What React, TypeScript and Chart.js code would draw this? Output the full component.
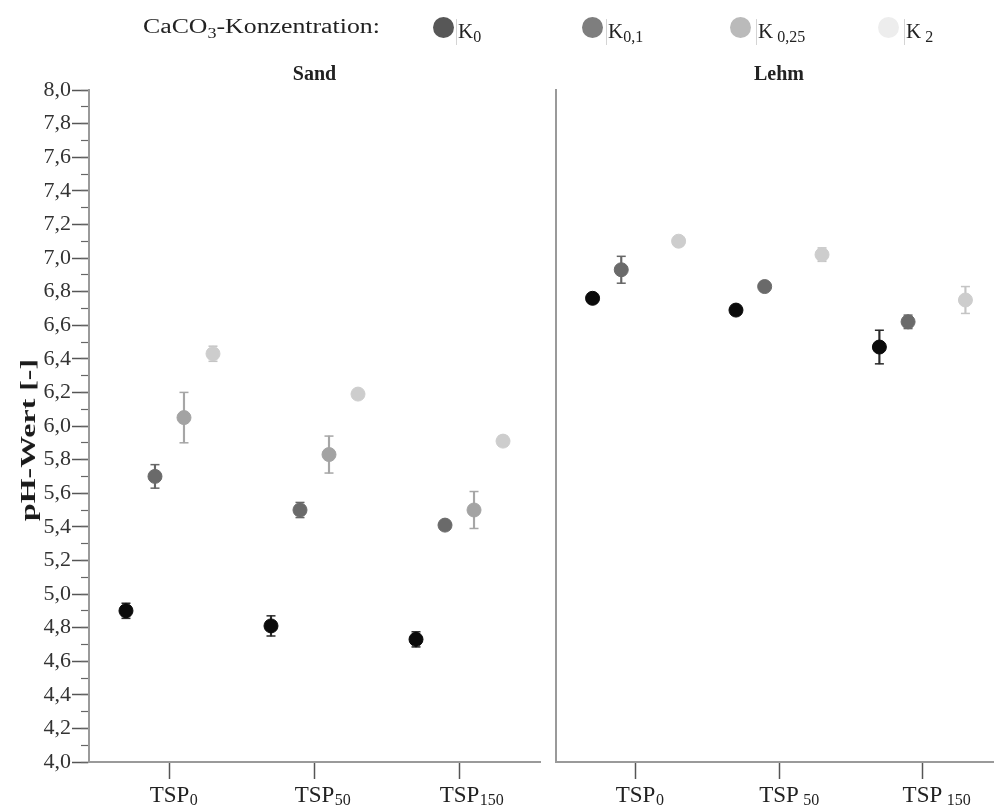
import React, { useEffect, useRef } from 'react';
import { Chart, registerables } from 'chart.js';

Chart.register(...registerables);

// ---------- data ----------
const categoryLabels = ['TSP', 'TSP', 'TSP'];
const sandCategorySubs = ['0', '50', '150'];
const lehmCategorySubs = ['0', ' 50', ' 150'];

const seriesNames = ['K0', 'K0,1', 'K0,25', 'K2'];
const legendBase = 'K';
const legendSubs = ['0', '0,1', ' 0,25', ' 2'];

const yMin = 4.0;
const yMax = 8.0;
const yMajorStep = 0.2;
const yMinorStep = 0.1;

// Sand
const sandK0 = [4.9, 4.81, 4.73];
const sandK0Err = [0.045, 0.06, 0.045];
const sandK01 = [5.7, 5.5, 5.41];
const sandK01Err = [0.07, 0.045, 0.02];
const sandK025 = [6.05, 5.83, 5.5];
const sandK025Err = [0.15, 0.11, 0.11];
const sandK2 = [6.43, 6.19, 5.91];
const sandK2Err = [0.045, 0.02, 0.03];

// Lehm
const lehmK0 = [6.76, 6.69, 6.47];
const lehmK0Err = [0.02, 0.02, 0.1];
const lehmK01 = [6.93, 6.83, 6.62];
const lehmK01Err = [0.08, 0.02, 0.04];
const lehmK025: (number | null)[] = [null, null, null];
const lehmK025Err = [0, 0, 0];
const lehmK2 = [7.1, 7.02, 6.75];
const lehmK2Err = [0.02, 0.04, 0.08];

// ---------- style ----------
const SERIF = "'Liberation Serif', 'Times New Roman', serif";
const pointColors = ['#0b0b0b', '#6a6a6a', '#a3a3a3', '#cdcdcd'];
const errorColors = ['#2a2a2a', '#666666', '#a6a6a6', '#c4c4c4'];
const legendColors = ['#575757', '#7e7e7e', '#bababa', '#ededed'];
const dodge = [-0.3, -0.1, 0.1, 0.3];
const xRange = [-0.555, 2.555];
const xTickFont = 23;
const xSubFont = 16;

function buildDatasets(values: (number | null)[][], errors: number[][]) {
  const ds: any[] = [];
  values.forEach((series, j) => {
    const pts: any[] = [];
    const whiskers: any[] = [];
    const caps: any[] = [];
    series.forEach((v, i) => {
      if (v === null || v === undefined) return;
      const x = i + dodge[j];
      const e = errors[j][i];
      pts.push({ x, y: v });
      if (e > 0) {
        whiskers.push({ x, y: [v - e, v + e] });
        caps.push({ x, y: v - e }, { x, y: v + e });
      }
    });
    if (!pts.length) return;
    ds.push({
      type: 'bar',
      label: seriesNames[j] + ' SE',
      data: whiskers,
      backgroundColor: errorColors[j],
      borderWidth: 0,
      barThickness: 1.5,
      grouped: false,
      order: 3,
      xAxisID: 'x',
      yAxisID: 'y',
    });
    ds.push({
      type: 'scatter',
      label: seriesNames[j] + ' caps',
      data: caps,
      pointStyle: 'line',
      pointRadius: 4.5,
      pointHoverRadius: 4.5,
      pointBorderWidth: 1.5,
      borderColor: errorColors[j],
      pointBorderColor: errorColors[j],
      order: 2,
      xAxisID: 'x',
      yAxisID: 'y',
    });
    ds.push({
      type: 'scatter',
      label: seriesNames[j],
      data: pts,
      pointRadius: 7,
      pointHoverRadius: 7,
      pointBackgroundColor: pointColors[j],
      pointBorderColor: pointColors[j],
      pointBorderWidth: 1,
      order: 1,
      xAxisID: 'x',
      yAxisID: 'y',
    });
  });
  return ds;
}

function subscriptPlugin(subs: string[]) {
  return {
    id: 'tickSubscripts',
    afterDraw(chart: any) {
      const scale = chart.scales.x;
      const ctx = chart.ctx;
      const o = scale.options;
      ctx.save();
      scale.ticks.forEach((t: any, i: number) => {
        const x = scale.getPixelForValue(t.value);
        ctx.font = `${xTickFont}px ${SERIF}`;
        ctx.textBaseline = 'middle';
        const m = ctx.measureText(String(t.label));
        const midY = scale.top + o.grid.tickLength + o.ticks.padding + (xTickFont * 1.2) / 2;
        const baseY = midY + m.actualBoundingBoxDescent;
        ctx.font = `${xSubFont}px ${SERIF}`;
        ctx.textBaseline = 'alphabetic';
        ctx.textAlign = 'left';
        ctx.fillStyle = '#222';
        ctx.fillText(subs[i], x + m.width / 2 + 0.5, baseY + 3);
      });
      ctx.restore();
    },
  };
}

function makeConfig(title: string, values: (number | null)[][], errors: number[][], subs: string[], withLabels: boolean): any {
  const scales: any = {
    x: {
      type: 'linear',
      min: xRange[0],
      max: xRange[1],
      offset: false,
      afterBuildTicks: (s: any) => {
        s.ticks = categoryLabels.map((_, i) => ({ value: i }));
      },
      afterFit: (s: any) => {
        s.height = 45;
      },
      ticks: {
        callback: (_v: any, i: number) => categoryLabels[i],
        font: { family: SERIF, size: xTickFont },
        color: '#222',
        padding: 3,
        autoSkip: false,
        maxRotation: 0,
      },
      grid: { offset: false, drawOnChartArea: false, drawTicks: true, tickLength: 17, tickColor: '#555', tickWidth: 1.5 },
      border: { display: true, color: '#9a9a9a', width: 2 },
    },
    y: {
      type: 'linear',
      min: yMin,
      max: yMax,
      weight: 1,
      afterFit: (s: any) => {
        s.width = withLabels ? 89 : 4;
      },
      ticks: withLabels
        ? {
            stepSize: yMajorStep,
            autoSkip: false,
            callback: (v: any) => Number(v).toFixed(1).replace('.', ','),
            font: { family: SERIF, size: 22 },
            color: '#333',
            padding: 1,
          }
        : { display: false, stepSize: yMajorStep },
      grid: withLabels
        ? { drawOnChartArea: false, tickLength: 17, tickColor: '#555', tickWidth: 1.5 }
        : { drawOnChartArea: false, drawTicks: false },
      border: { display: true, color: '#9a9a9a', width: 2 },
    },
  };
  if (withLabels) {
    scales.yMinor = {
      type: 'linear',
      position: 'left',
      min: yMin,
      max: yMax,
      weight: 0,
      afterFit: (s: any) => {
        s.width = 0;
      },
      ticks: { stepSize: yMinorStep, display: false, autoSkip: false },
      grid: { drawOnChartArea: false, tickLength: 8, tickColor: '#666', tickWidth: 1.2 },
      border: { display: false },
    };
  }
  return {
    type: 'scatter',
    data: { datasets: buildDatasets(values, errors) },
    options: {
      animation: false,
      responsive: false,
      events: [],
      layout: { padding: { left: 0, right: withLabels ? 5 : 4, top: 0, bottom: 0 } },
      plugins: {
        legend: { display: false },
        tooltip: { enabled: false },
        title: {
          display: true,
          text: title,
          fullSize: false,
          color: '#222',
          font: { family: SERIF, size: 20, weight: 'bold' },
          padding: { top: 63, bottom: 3 },
        },
      },
      scales,
    },
    plugins: [subscriptPlugin(subs)],
  };
}

const legendMarkerX = [443, 592, 740, 888];
const legendLabelX = [456, 606, 756, 904];

export default function App() {
  const leftRef = useRef<HTMLCanvasElement>(null);
  const rightRef = useRef<HTMLCanvasElement>(null);

  useEffect(() => {
    const c1 = new Chart(
      leftRef.current as HTMLCanvasElement,
      makeConfig(
        'Sand',
        [sandK0, sandK01, sandK025, sandK2],
        [sandK0Err, sandK01Err, sandK025Err, sandK2Err],
        sandCategorySubs,
        true
      )
    );
    const c2 = new Chart(
      rightRef.current as HTMLCanvasElement,
      makeConfig(
        'Lehm',
        [lehmK0, lehmK01, lehmK025, lehmK2],
        [lehmK0Err, lehmK01Err, lehmK025Err, lehmK2Err],
        lehmCategorySubs,
        false
      )
    );
    return () => {
      c1.destroy();
      c2.destroy();
    };
  }, []);

  return (
    <div
      style={{
        position: 'fixed',
        left: 0,
        top: 0,
        width: 994,
        height: 807,
        overflow: 'hidden',
        background: '#fff',
        fontFamily: SERIF,
      }}
    >
      <canvas ref={leftRef} width={548} height={807} style={{ position: 'absolute', left: 0, top: 0, width: 548, height: 807 }} />
      <canvas ref={rightRef} width={462} height={807} style={{ position: 'absolute', left: 548, top: 0, width: 462, height: 807 }} />

      {/* legend */}
      <div
        style={{
          position: 'absolute',
          left: 143,
          top: 14,
          fontSize: 20,
          lineHeight: '24px',
          color: '#222',
          whiteSpace: 'nowrap',
          transform: 'scaleX(1.29)',
          transformOrigin: 'left center',
        }}
      >
        CaCO<span style={{ fontSize: 14, position: 'relative', top: 5 }}>3</span>-Konzentration:
      </div>
      {seriesNames.map((name, j) => (
        <React.Fragment key={name}>
          <div
            style={{
              position: 'absolute',
              left: legendMarkerX[j] - 10.5,
              top: 17,
              width: 21,
              height: 21,
              borderRadius: '50%',
              background: legendColors[j],
            }}
          />
          <div
            style={{
              position: 'absolute',
              left: legendLabelX[j],
              top: 19,
              fontSize: 21,
              lineHeight: '24px',
              color: '#222',
              whiteSpace: 'pre',
              borderLeft: '1px solid #d4d4d4',
              paddingLeft: 1,
            }}
          >
            {legendBase}
            <span style={{ fontSize: 16, position: 'relative', top: 4 }}>{legendSubs[j]}</span>
          </div>
        </React.Fragment>
      ))}

      {/* y axis title */}
      <div
        style={{
          position: 'absolute',
          left: 28,
          top: 440,
          fontSize: 22,
          fontWeight: 'bold',
          color: '#1a1a1a',
          whiteSpace: 'nowrap',
          lineHeight: '24px',
          transform: 'translate(-50%, -50%) rotate(-90deg) scaleX(1.45)',
        }}
      >
        pH-Wert [-]
      </div>
    </div>
  );
}
